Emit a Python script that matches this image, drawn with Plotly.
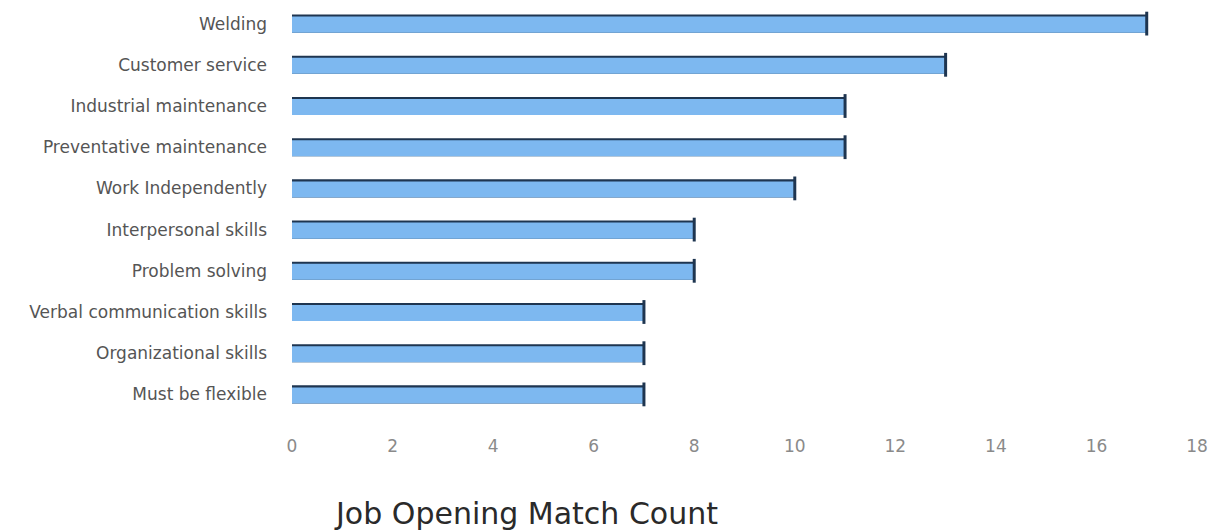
import plotly.graph_objects as go

categories = [
    "Welding",
    "Customer service",
    "Industrial maintenance",
    "Preventative maintenance",
    "Work Independently",
    "Interpersonal skills",
    "Problem solving",
    "Verbal communication skills",
    "Organizational skills",
    "Must be flexible",
]
counts = [17, 13, 11, 11, 10, 8, 8, 7, 7, 7]
x_ticks = [0, 2, 4, 6, 8, 10, 12, 14, 16, 18]
x_title = "Job Opening Match Count"

DARK = "#1e3550"
LIGHT = "#7db8f0"
FONT = "DejaVu Sans"

fig = go.Figure()
# dark underlay (top edge shading)
fig.add_trace(go.Bar(
    x=counts, y=categories, orientation="h",
    width=0.44, offset=-0.22,
    marker=dict(color=DARK, line=dict(width=0)),
    hoverinfo="skip", showlegend=False,
))
# light face
fig.add_trace(go.Bar(
    x=counts, y=categories, orientation="h",
    width=0.39, offset=-0.17,
    marker=dict(color=LIGHT, line=dict(width=0)),
    showlegend=False,
))
# dark end caps
fig.add_trace(go.Scatter(
    x=counts, y=categories, mode="markers",
    marker=dict(symbol="line-ns", size=17, line=dict(width=3, color=DARK)),
    hoverinfo="skip", showlegend=False,
))

fig.update_layout(
    width=1211, height=532,
    margin=dict(l=292, r=12, t=3, b=117),
    paper_bgcolor="white", plot_bgcolor="white",
    barmode="overlay",
    font=dict(family=FONT, color="#555555"),
    xaxis=dict(
        range=[0, 18], tickvals=x_ticks, showgrid=False, zeroline=False,
        showline=False, ticks="", ticklabelstandoff=19,
        tickfont=dict(size=17, color="#8a8a8a", family=FONT),
    ),
    yaxis=dict(
        categoryorder="array", categoryarray=categories,
        range=[9.5, -0.5], autorange=False,
        showgrid=False, zeroline=False, showline=False, ticks="",
        ticklabelstandoff=24,
        tickfont=dict(size=17, color="#555555", family=FONT),
    ),
    annotations=[dict(
        text=x_title, xref="paper", yref="paper", x=0.259, y=-0.24,
        xanchor="center", yanchor="middle", showarrow=False,
        font=dict(size=30, color="#2a2a2a", family=FONT),
    )],
)

fig.write_html("out.html")
